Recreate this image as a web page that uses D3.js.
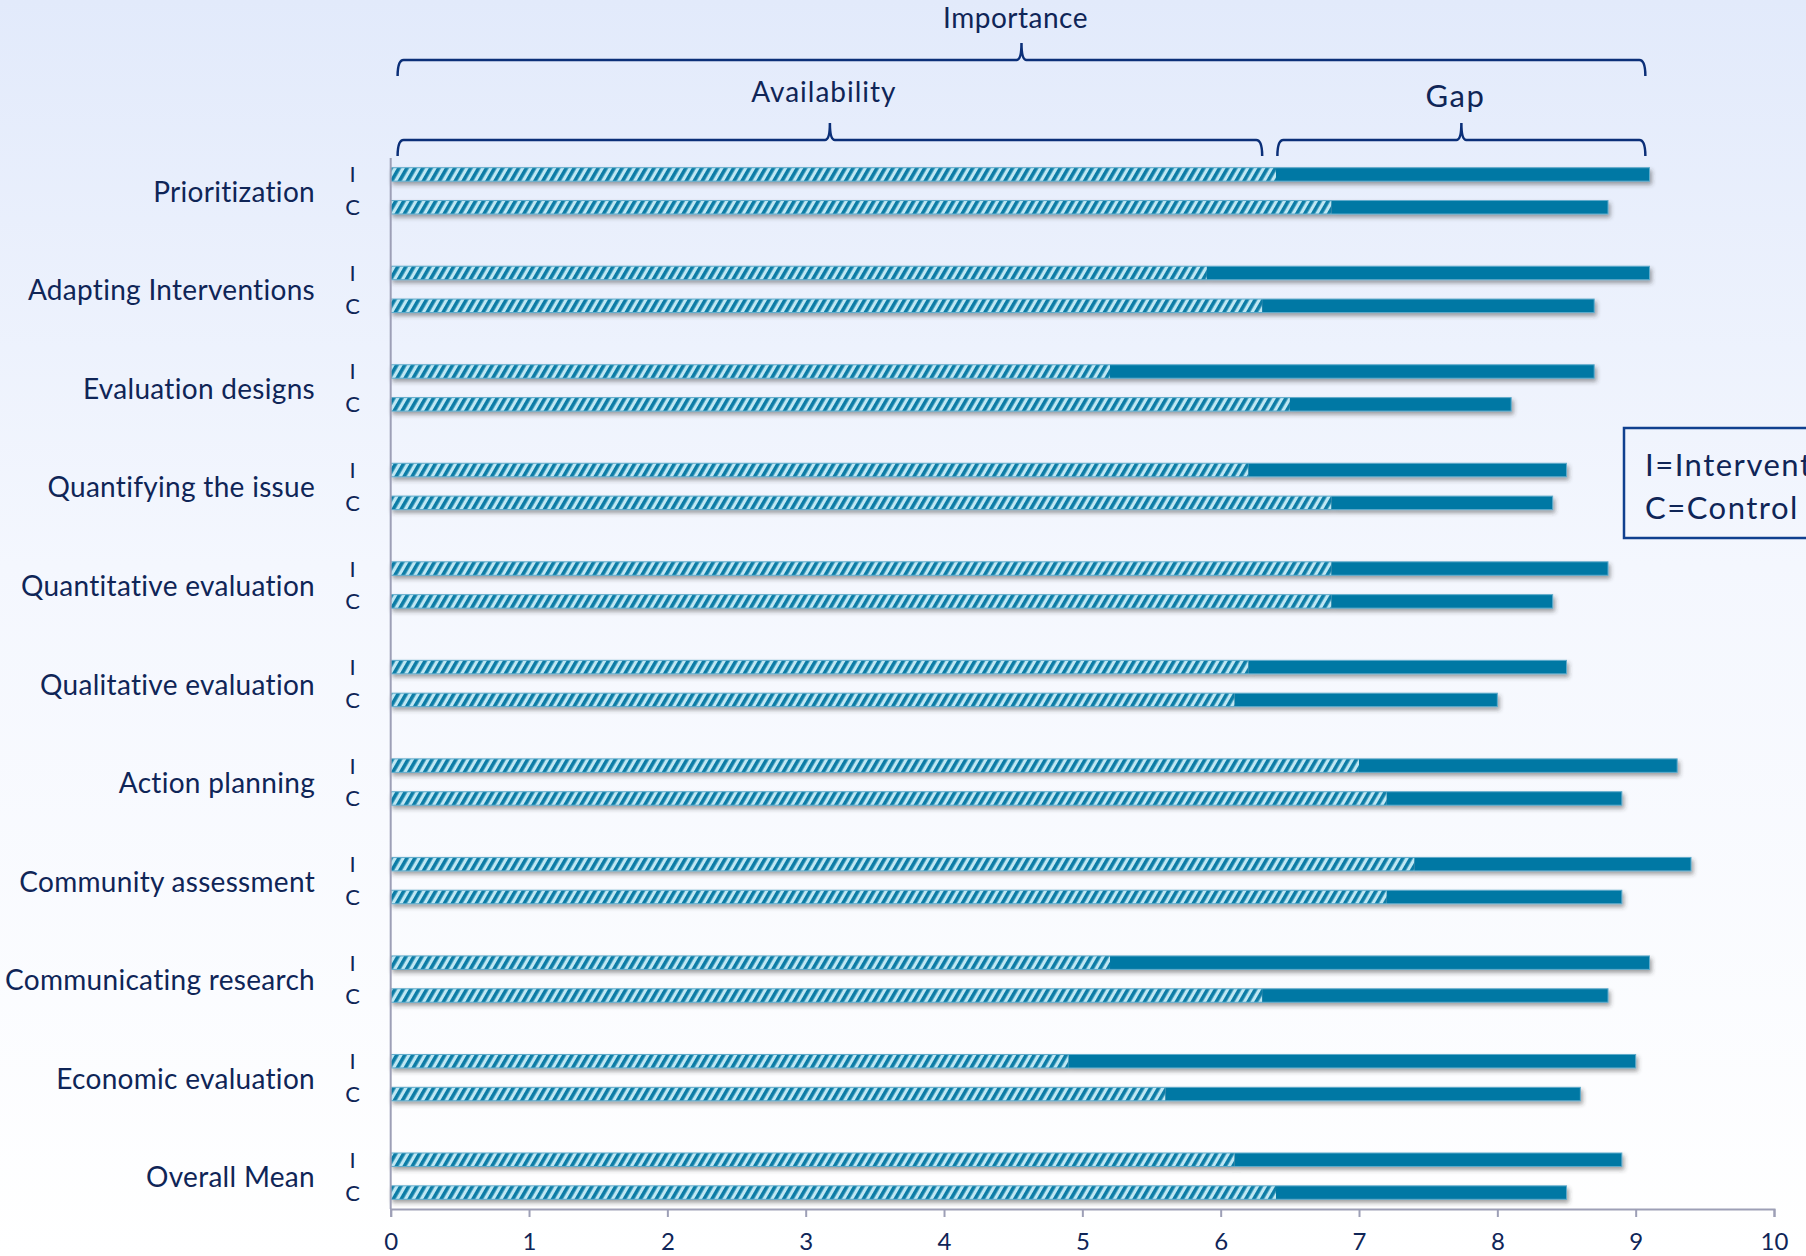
<html>

<head>
    <script src="https://d3js.org/d3.v7.min.js"></script>
    <style>
        body { margin: 0; overflow: hidden; }
        text { font-family: Lato, "Open Sans", sans-serif; fill: #0f2557; }
    </style>
</head>

<body>
    <svg id="chart" width="1806" height="1256"></svg>
    <script>
        // values (scale 0-10)
        var categories = ["Prioritization", "Adapting Interventions", "Evaluation designs", "Quantifying the issue",
            "Quantitative evaluation", "Qualitative evaluation", "Action planning", "Community assessment",
            "Communicating research", "Economic evaluation", "Overall Mean"];
        var groups = ["I", "C"];
        var availI = [6.4, 5.9, 5.2, 6.2, 6.8, 6.2, 7.0, 7.4, 5.2, 4.9, 6.1];
        var availC = [6.8, 6.3, 6.5, 6.8, 6.8, 6.1, 7.2, 7.2, 6.3, 5.6, 6.4];
        var importI = [9.1, 9.1, 8.7, 8.5, 8.8, 8.5, 9.3, 9.4, 9.1, 9.0, 8.9];
        var importC = [8.8, 8.7, 8.1, 8.4, 8.4, 8.0, 8.9, 8.9, 8.8, 8.6, 8.5];
        var xTicks = [0, 1, 2, 3, 4, 5, 6, 7, 8, 9, 10];
        var legendLines = ["I=Intervention", "C=Control"];

        var svg = d3.select("#chart");
        var W = 1806, H = 1256;
        var defs = svg.append("defs");

        var bg = defs.append("linearGradient").attr("id", "bg")
            .attr("x1", 0).attr("y1", 0).attr("x2", 0).attr("y2", 1);
        bg.append("stop").attr("offset", "0%").attr("stop-color", "#e2eafb");
        bg.append("stop").attr("offset", "45%").attr("stop-color", "#f4f7fe");
        bg.append("stop").attr("offset", "100%").attr("stop-color", "#ffffff");

        var hatch = defs.append("pattern").attr("id", "hatch")
            .attr("patternUnits", "userSpaceOnUse")
            .attr("width", 6.9).attr("height", 10)
            .attr("patternTransform", "rotate(30)");
        hatch.append("rect").attr("width", 6.9).attr("height", 10).attr("fill", "#bfe7f3");
        hatch.append("rect").attr("width", 3.6).attr("height", 10).attr("fill", "#0a7ca6");

        var shadow = defs.append("filter").attr("id", "shadow")
            .attr("x", "-5%").attr("y", "-50%").attr("width", "110%").attr("height", "250%");
        shadow.append("feDropShadow").attr("dx", 2).attr("dy", 3).attr("stdDeviation", 2)
            .attr("flood-color", "#333").attr("flood-opacity", 0.45);

        svg.append("rect").attr("width", W).attr("height", H).attr("fill", "url(#bg)");

        var x = d3.scaleLinear().domain([0, 10]).range([390.7, 1774]);

        var slot = (1209 - 158) / 32;
        var y0 = d3.scaleBand().domain(categories).range([158, 158 + slot * 33]);
        var y1 = d3.scaleBand().domain(["I", "C", "blank"]).range([0, y0.bandwidth()]);
        var barH = y1.bandwidth() * 0.41;

        var rows = [];
        categories.forEach(function (c, i) {
            rows.push({ cat: c, g: "I", avail: availI[i], imp: importI[i] });
            rows.push({ cat: c, g: "C", avail: availC[i], imp: importC[i] });
        });

        function barY(d) { return y0(d.cat) + y1(d.g) + (y1.bandwidth() - barH) / 2; }

        var bars = svg.append("g").selectAll("g").data(rows).enter().append("g")
            .attr("filter", "url(#shadow)");
        bars.append("rect")
            .attr("x", x(0)).attr("y", barY)
            .attr("width", (d) => x(d.avail) - x(0)).attr("height", barH)
            .attr("fill", "url(#hatch)");
        bars.append("rect")
            .attr("x", (d) => x(d.avail)).attr("y", barY)
            .attr("width", (d) => x(d.imp) - x(d.avail)).attr("height", barH)
            .attr("fill", "#0078a4");
        bars.append("rect")
            .attr("x", x(0)).attr("y", barY)
            .attr("width", (d) => x(d.imp) - x(0)).attr("height", barH)
            .attr("fill", "none").attr("stroke", "#5fabcb").attr("stroke-width", 1);

        // axes
        var axisColor = "#9d9fb6";
        svg.append("line").attr("x1", x(0)).attr("x2", x(0)).attr("y1", 158).attr("y2", 1209)
            .attr("stroke", axisColor).attr("stroke-width", 2);
        var xAxis = svg.append("g").attr("transform", "translate(0,1209)")
            .call(d3.axisBottom(x).tickValues(xTicks).tickSize(8).tickPadding(16).tickFormat(d3.format("d")));
        xAxis.select(".domain").attr("stroke", axisColor).attr("stroke-width", 2);
        xAxis.selectAll(".tick line").attr("stroke", axisColor).attr("stroke-width", 2);
        xAxis.selectAll(".tick text").attr("font-size", 24).attr("fill", "#0f2557")
            .attr("font-family", "Lato, sans-serif");

        // category labels
        svg.append("g").selectAll("text").data(categories).enter().append("text")
            .attr("x", 315).attr("y", (d) => y0(d) + slot + 11)
            .attr("text-anchor", "end").attr("font-size", 28).attr("letter-spacing", 0.3)
            .text((d) => d);

        svg.append("g").selectAll("text").data(rows).enter().append("text")
            .attr("x", 352.5).attr("y", (d) => y0(d.cat) + y1(d.g) + slot / 2 + 8)
            .attr("text-anchor", "middle").attr("font-size", 22)
            .text((d) => d.g);

        // braces above the bars
        var braces = [
            { label: "Importance", from: 0.05, to: 9.07, y: 60, ty: 28, size: 28, ls: 0.5 },
            { label: "Availability", from: 0.05, to: 6.3, y: 140, ty: 101.5, size: 28, ls: 1 },
            { label: "Gap", from: 6.41, to: 9.07, y: 140, ty: 107, size: 31, ls: 1.5 }
        ];
        function bracePath(b) {
            var a = x(b.from), c = x(b.to), m = (a + c) / 2, yy = b.y;
            return "M" + a + "," + (yy + 16) + " Q" + a + "," + yy + " " + (a + 6) + "," + yy +
                " L" + (m - 5) + "," + yy + " Q" + m + "," + yy + " " + m + "," + (yy - 17) +
                " Q" + m + "," + yy + " " + (m + 5) + "," + yy +
                " L" + (c - 6) + "," + yy + " Q" + c + "," + yy + " " + c + "," + (yy + 16);
        }
        svg.append("g").selectAll("path").data(braces).enter().append("path")
            .attr("d", bracePath).attr("fill", "none")
            .attr("stroke", "#0b2f78").attr("stroke-width", 2.5);
        svg.append("g").selectAll("text").data(braces).enter().append("text")
            .attr("x", (d) => (x(d.from) + x(d.to)) / 2 - 6).attr("y", (d) => d.ty)
            .attr("text-anchor", "middle").attr("font-size", (d) => d.size)
            .attr("letter-spacing", (d) => d.ls)
            .text((d) => d.label);

        // legend box (runs off the right edge, as in the original)
        svg.append("rect").attr("x", 1624).attr("y", 428).attr("width", 260).attr("height", 110)
            .attr("fill", "none").attr("stroke", "#10408f").attr("stroke-width", 2.5);
        svg.append("g").selectAll("text").data(legendLines).enter().append("text")
            .attr("x", 1645).attr("y", (d, i) => 476 + i * 43)
            .attr("font-size", 31).attr("letter-spacing", 1.5)
            .text((d) => d);
    </script>
</body>

</html>
